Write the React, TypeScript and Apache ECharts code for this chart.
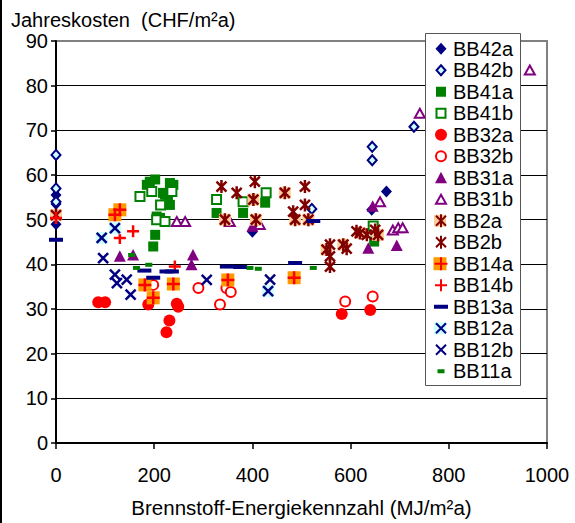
import React, { useEffect, useRef } from 'react';
import * as echarts from 'echarts';

// ---- data (x: MJ/m2a, y: CHF/m2a) ----
const BB42a = [[0, 55.5], [0, 53.5], [0, 49], [400, 47.3], [643, 52.2], [673, 56.3]];
const BB42b = [[0, 64.5], [0, 57], [0, 54], [521, 52.4], [644, 63.3], [644, 66.3], [729, 70.8]];
const BB41a = [[185, 57.8], [191, 58.5], [202, 59], [232, 58.2], [239, 57.8], [218, 56], [222, 55.6], [228, 54.5], [232, 53.3], [205, 50.7], [212, 50.4], [202, 46.6], [198, 44], [327, 51.5], [381, 51.5], [426, 53.8], [648, 45.1]];
const BB41b = [[171, 55.2], [195, 56.3], [236, 56.3], [213, 53.3], [205, 50], [222, 49.6], [327, 54.5], [381, 54], [428, 56], [646, 48.6]];
const BB32a = [[86, 31.5], [100, 31.5], [188, 31], [246, 31.2], [249, 30.5], [231, 27.4], [225, 24.8], [582, 28.9], [640, 29.8]];
const BB32b = [[198, 35.4], [290, 34.7], [334, 31], [347, 34.7], [356, 33.8], [589, 31.7], [645, 32.8]];
const BB31a = [[130, 41.8], [157, 42.1], [279, 42.1], [276, 39.9], [400, 48.5], [645, 53], [636, 43.6], [694, 44.2]];
const BB31b = [[246, 49.6], [263, 49.6], [354, 49.6], [415, 48.9], [660, 54], [686, 47.7], [697, 48.2], [706, 48.2], [741, 73.8], [965, 83.5]];
const BB2a = [[0, 51], [344, 50], [402, 54.5], [407, 50], [466, 56], [487, 50], [514, 50], [551, 43.3], [585, 44.4], [619, 47], [656, 46.6]];
const BB2b = [[337, 57.4], [368, 56], [405, 58.5], [507, 57.4], [507, 53.3], [483, 51.8], [558, 44.4], [558, 41.8], [558, 39.5], [592, 43.5], [612, 47.4], [633, 46.6], [650, 47.7]];
const BB14a = [[130, 52.2], [120, 51.1], [181, 35.4], [198, 32.5], [239, 35.6], [350, 36.5], [485, 37]];
const BB14b = [[0, 50.4], [130, 45.9], [157, 47.4], [242, 39.5]];
const BB13a = [[0, 45.5], [180, 38.6], [198, 37], [225, 38.4], [236, 38.4], [348, 39.5], [375, 39.4], [487, 40.3], [524, 49.7]];
const BB12a = [[93, 45.9], [120, 48.1], [432, 34]];
const BB12b = [[96, 41.4], [120, 37.7], [124, 35.8], [144, 36.6], [152, 33.2], [307, 36.5], [436, 36.6]];
const BB11a = [[154, 42.1], [164, 39.2], [189, 39.9], [395, 39.2], [412, 39], [524, 39.2]];

const X_MIN = 0, X_MAX = 1000, X_STEP = 200;
const Y_MIN = 0, Y_MAX = 90, Y_STEP = 10;

const TITLE = 'Jahreskosten  (CHF/m²a)';
const X_NAME = 'Brennstoff-Energiekennzahl (MJ/m²a)';

// ---- symbols (14x14 box) ----
const P = (d: string) => 'path://M0,0M14,14' + d;
const SYM = {
  diamond: P('M7,1L12.5,7L7,13L1.5,7Z'),
  diamondOpen: P('M7,2L11.5,7L7,12L2.5,7Z'),
  square: P('M2,2H12V12H2Z'),
  squareOpen: P('M2.5,2.5H11.5V11.5H2.5Z'),
  circle: P('M1,7A6,6 0 1 0 13,7A6,6 0 1 0 1,7Z'),
  circleOpen: P('M2,7A5,5 0 1 0 12,7A5,5 0 1 0 2,7Z'),
  triangle: P('M7,1L13,12.5H1Z'),
  triangleOpen: P('M7,2.5L12,11.5H2Z'),
  asterisk: P('M2,2L12,12M12,2L2,12M7,0.5V13.5'),
  box12: P('M1,1H13V13H1Z'),
  box13: P('M0.5,0.5H13.5V13.5H0.5Z'),
  plus: P('M7,1V13M1,7H13'),
  plusBig: P('M7,0.5V13.5M0.5,7H13.5'),
  cross: P('M2,2L12,12M12,2L2,12'),
  dash: P('M0,5H14V9H0Z'),
  dashSmall: P('M3.5,5H10.5V9H3.5Z'),
};

const NAVY = '#000080', GREEN = '#008000', RED = '#ff0000', PURPLE = '#800080', MAROON = '#800000';
const ORANGE = '#ff9900', PEACH = '#ffcc99', CYAN = '#ccffff';

type Def = { name: string; data: number[][]; symbol: string; color: string; border?: string; bw?: number; bg?: { symbol: string; color: string } };

const DEFS: Def[] = [
  { name: 'BB42a', data: BB42a, symbol: SYM.diamond, color: NAVY },
  { name: 'BB42b', data: BB42b, symbol: SYM.diamondOpen, color: CYAN, border: NAVY, bw: 2 },
  { name: 'BB41a', data: BB41a, symbol: SYM.square, color: GREEN },
  { name: 'BB41b', data: BB41b, symbol: SYM.squareOpen, color: '#ffffff', border: GREEN, bw: 2 },
  { name: 'BB32a', data: BB32a, symbol: SYM.circle, color: RED },
  { name: 'BB32b', data: BB32b, symbol: SYM.circleOpen, color: '#ffffff', border: RED, bw: 2 },
  { name: 'BB31a', data: BB31a, symbol: SYM.triangle, color: PURPLE },
  { name: 'BB31b', data: BB31b, symbol: SYM.triangleOpen, color: '#ffffff', border: PURPLE, bw: 2 },
  { name: 'BB2a', data: BB2a, symbol: SYM.asterisk, color: MAROON, border: MAROON, bw: 2.5, bg: { symbol: SYM.box12, color: PEACH } },
  { name: 'BB2b', data: BB2b, symbol: SYM.asterisk, color: MAROON, border: MAROON, bw: 2.5 },
  { name: 'BB14a', data: BB14a, symbol: SYM.plusBig, color: RED, border: RED, bw: 2.5, bg: { symbol: SYM.box13, color: ORANGE } },
  { name: 'BB14b', data: BB14b, symbol: SYM.plus, color: RED, border: RED, bw: 2.5 },
  { name: 'BB13a', data: BB13a, symbol: SYM.dash, color: NAVY },
  { name: 'BB12a', data: BB12a, symbol: SYM.cross, color: NAVY, border: NAVY, bw: 2.5, bg: { symbol: SYM.box12, color: CYAN } },
  { name: 'BB12b', data: BB12b, symbol: SYM.cross, color: NAVY, border: NAVY, bw: 2.5 },
  { name: 'BB11a', data: BB11a, symbol: SYM.dashSmall, color: GREEN },
];

const FONT = "'Liberation Sans', Arial, sans-serif";
const LEG_LEFT = 425, LEG_TOP = 33, LEG_PAD_TOP = 5, LEG_ROW = 21.5, LEG_W = 95, LEG_H = 352;
const ICON_CX = LEG_LEFT + 8 + 7;

export default function App() {
  const ref = useRef<HTMLDivElement>(null);
  useEffect(() => {
    if (!ref.current) return;
    const chart = echarts.init(ref.current, undefined, { renderer: 'svg' });
    const series: any[] = [];
    DEFS.forEach((d) => {
      if (d.bg) {
        series.push({
          type: 'scatter', name: d.name + ' bg', data: d.data, symbol: d.bg.symbol, symbolSize: 14,
          symbolKeepAspect: true, z: 3, silent: true, emphasis: { disabled: true },
          itemStyle: { color: d.bg.color, borderWidth: 0, opacity: 1 },
        });
      }
      series.push({
        type: 'scatter', name: d.name, data: d.data, symbol: d.symbol, symbolSize: 14,
        symbolKeepAspect: true, z: 3, silent: true, emphasis: { disabled: true },
        itemStyle: { color: d.color, borderColor: d.border || d.color, borderWidth: d.bw || 0, opacity: 1 },
      });
    });
    const rowCenter = (i: number) => LEG_TOP + LEG_PAD_TOP + LEG_ROW / 2 + i * LEG_ROW;
    const legendBgIcons: any[] = [];
    DEFS.forEach((d, i) => {
      if (d.bg) {
        const s = d.bg.symbol === SYM.box13 ? 13 : 12;
        legendBgIcons.push({
          type: 'rect', z: 4, z2: 1,
          shape: { x: ICON_CX - s / 2, y: rowCenter(i) - s / 2, width: s, height: s },
          style: { fill: d.bg.color },
        });
      }
    });
    chart.setOption({
      animation: false,
      backgroundColor: '#ffffff',
      textStyle: { fontFamily: FONT },
      title: {
        text: TITLE, left: 11, top: 11, padding: 0,
        textStyle: { fontSize: 20, lineHeight: 18, fontWeight: 'normal', color: '#000', fontFamily: FONT },
      },
      grid: { left: 56, right: 28, top: 41, bottom: 80, show: true, borderColor: '#808080', borderWidth: 2, backgroundColor: 'transparent' },
      xAxis: {
        type: 'value', min: X_MIN, max: X_MAX, interval: X_STEP,
        name: X_NAME, nameLocation: 'middle', nameGap: 54,
        nameTextStyle: { fontSize: 20.5, color: '#000', fontFamily: FONT },
        axisLine: { lineStyle: { color: '#000', width: 2 } },
        axisTick: { show: true, inside: false, length: 6, lineStyle: { color: '#000', width: 1.5 } },
        axisLabel: { fontSize: 20, color: '#000', margin: 22, fontFamily: FONT, formatter: (v: number) => String(v) },
        splitLine: { show: false },
      },
      yAxis: {
        type: 'value', min: Y_MIN, max: Y_MAX, interval: Y_STEP,
        axisLine: { show: true, lineStyle: { color: '#000', width: 2 } },
        axisTick: { show: true, inside: false, length: 5, lineStyle: { color: '#000', width: 1.5 } },
        axisLabel: { fontSize: 20, lineHeight: 18, color: '#000', margin: 8, fontFamily: FONT, formatter: (v: number) => String(v) },
        splitLine: { show: true, showMaxLine: false, showMinLine: false, lineStyle: { color: '#000', width: 1 } },
      },
      legend: {
        orient: 'vertical', left: LEG_LEFT, top: LEG_TOP,
        padding: [LEG_PAD_TOP, 5, 5, 8], itemGap: 0, itemWidth: 14, itemHeight: 14,
        backgroundColor: 'transparent', z: 5, selectedMode: false,
        symbolKeepAspect: true,
        textStyle: { fontSize: 20, color: '#000', lineHeight: LEG_ROW, fontFamily: FONT },
        data: DEFS.map((d) => d.name),
      },
      graphic: [
        { type: 'rect', z: 4, z2: 0, shape: { x: LEG_LEFT + 0.5, y: LEG_TOP + 0.5, width: LEG_W, height: LEG_H }, style: { fill: '#fff', stroke: '#555', lineWidth: 1 } },
        ...legendBgIcons,
        { type: 'rect', z: 10, shape: { x: 0, y: 0, width: 2, height: 523 }, style: { fill: '#000' } },
      ],
      series,
    });
    return () => chart.dispose();
  }, []);
  return <div ref={ref} style={{ position: 'fixed', left: 0, top: 0, width: 575, height: 523, background: '#fff' }} />;
}
